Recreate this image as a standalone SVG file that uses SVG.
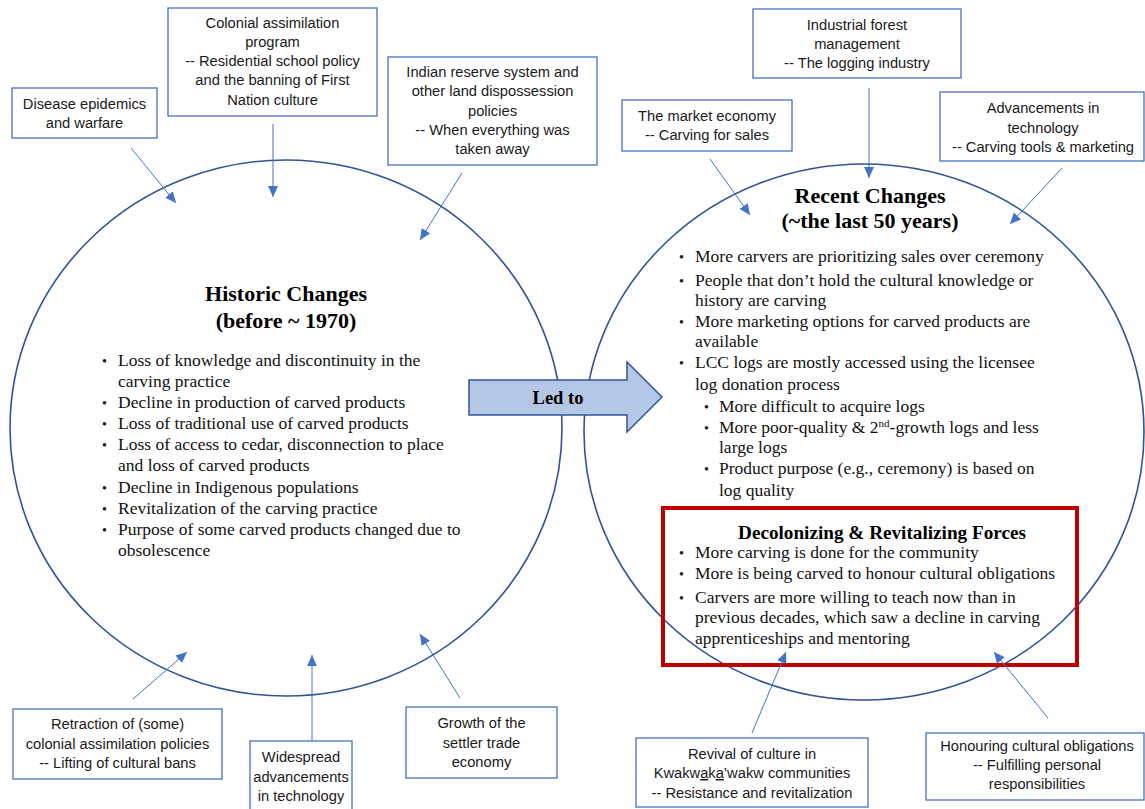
<svg xmlns="http://www.w3.org/2000/svg" width="1145" height="809" viewBox="0 0 1145 809">
<style>
.bg{fill:#ffffff}
.circ{fill:none;stroke:#2f5597;stroke-width:1.6}
.box{fill:#ffffff;stroke:#4472c4;stroke-width:1.3}
.bt{font-family:"Liberation Sans",Arial,sans-serif;font-size:14.7px;fill:#1a1a1a;text-anchor:middle}
.title{font-family:"Liberation Serif","Times New Roman",serif;font-size:22px;font-weight:bold;fill:#000;text-anchor:middle}
.sub{font-family:"Liberation Serif","Times New Roman",serif;font-size:18.5px;font-weight:bold;fill:#000;text-anchor:middle}
.sub2{font-family:"Liberation Serif","Times New Roman",serif;font-size:19.2px;font-weight:bold;fill:#000;text-anchor:middle}
.body{font-family:"Liberation Serif","Times New Roman",serif;font-size:17.5px;fill:#111}
.blt{font-size:14px}
.conn{stroke:#4472c4;stroke-width:1;fill:none;marker-end:url(#ah)}
</style>
<defs>
<marker id="ah" markerUnits="userSpaceOnUse" markerWidth="12" markerHeight="10" refX="11" refY="5" orient="auto">
<path d="M0,0 L11,5 L0,10 z" fill="#4472c4"/>
</marker>
</defs>
<rect class="bg" x="0" y="0" width="1145" height="809"/>

<g id="historic">
<ellipse class="circ" cx="286" cy="428" rx="276" ry="268"/>
<text class="title" x="286" y="301">Historic Changes</text>
<text class="title" x="286" y="328">(before ~ 1970)</text>
<g class="body">
<text class="blt" x="102" y="366">•</text><text x="118" y="366">Loss of knowledge and discontinuity in the</text>
<text x="118" y="387">carving practice</text>
<text class="blt" x="102" y="408">•</text><text x="118" y="408">Decline in production of carved products</text>
<text class="blt" x="102" y="429">•</text><text x="118" y="429">Loss of traditional use of carved products</text>
<text class="blt" x="102" y="450">•</text><text x="118" y="450">Loss of access to cedar, disconnection to place</text>
<text x="118" y="471">and loss of carved products</text>
<text class="blt" x="102" y="493">•</text><text x="118" y="493">Decline in Indigenous populations</text>
<text class="blt" x="102" y="514">•</text><text x="118" y="514">Revitalization of the carving practice</text>
<text class="blt" x="102" y="535">•</text><text x="118" y="535">Purpose of some carved products changed due to</text>
<text x="118" y="556">obsolescence</text>
</g>
</g>

<g id="recent">
<ellipse class="circ" cx="864" cy="432" rx="280" ry="268"/>
<text class="title" x="870" y="203">Recent Changes</text>
<text class="title" x="870" y="228">(~the last 50 years)</text>
<g class="body">
<text class="blt" x="679" y="262">•</text><text x="695" y="262">More carvers are prioritizing sales over ceremony</text>
<text class="blt" x="679" y="286">•</text><text x="695" y="286">People that don’t hold the cultural knowledge or</text>
<text x="695" y="306">history are carving</text>
<text class="blt" x="679" y="327">•</text><text x="695" y="327">More marketing options for carved products are</text>
<text x="695" y="347">available</text>
<text class="blt" x="679" y="368">•</text><text x="695" y="368">LCC logs are mostly accessed using the licensee</text>
<text x="695" y="390">log donation process</text>
<text class="blt" x="704" y="412">•</text><text x="719" y="412">More difficult to acquire logs</text>
<text class="blt" x="704" y="433">•</text><text x="719" y="433">More poor-quality &amp; 2<tspan font-size="11" dy="-6">nd</tspan><tspan dy="6">-growth logs and less</tspan></text>
<text x="719" y="453">large logs</text>
<text class="blt" x="704" y="474">•</text><text x="719" y="474">Product purpose (e.g., ceremony) is based on</text>
<text x="719" y="496">log quality</text>
</g>
</g>

<g id="decolonizing">
<rect x="663" y="508" width="414" height="157" fill="none" stroke="#c00000" stroke-width="4"/>
<text class="sub2" x="882" y="539">Decolonizing &amp; Revitalizing Forces</text>
<g class="body">
<text class="blt" x="679" y="558">•</text><text x="695" y="558">More carving is done for the community</text>
<text class="blt" x="679" y="579">•</text><text x="695" y="579">More is being carved to honour cultural obligations</text>
<text class="blt" x="679" y="603">•</text><text x="695" y="603">Carvers are more willing to teach now than in</text>
<text x="695" y="623">previous decades, which saw a decline in carving</text>
<text x="695" y="644">apprenticeships and mentoring</text>
</g>
</g>

<g id="led-to">
<path d="M469,380 L627,380 L627,362 L662,397 L627,432 L627,415 L469,415 Z" fill="#b4c7e7" stroke="#2f5597" stroke-width="1.5"/>
<text class="sub" x="558" y="404">Led to</text>
</g>

<g id="connectors">
<line class="conn" x1="131" y1="148" x2="176" y2="203"/>
<line class="conn" x1="273" y1="124" x2="273" y2="197"/>
<line class="conn" x1="462" y1="173" x2="420" y2="240"/>
<line class="conn" x1="710" y1="159" x2="750" y2="215"/>
<line class="conn" x1="869" y1="88" x2="869" y2="178"/>
<line class="conn" x1="1062" y1="168" x2="1010" y2="224"/>
<line class="conn" x1="133" y1="699" x2="187" y2="652"/>
<line class="conn" x1="312" y1="740" x2="312" y2="655"/>
<line class="conn" x1="460" y1="698" x2="420" y2="634"/>
<line class="conn" x1="752" y1="733" x2="786" y2="652"/>
<line class="conn" x1="1048" y1="718" x2="994" y2="652"/>
</g>

<g id="disease">
<rect class="box" x="12" y="88" width="145" height="50"/>
<text class="bt" x="84.5" y="109">Disease epidemics</text>
<text class="bt" x="84.5" y="128">and warfare</text>
</g>
<g id="colonial">
<rect class="box" x="168" y="8" width="209" height="108"/>
<text class="bt" x="272.5" y="28">Colonial assimilation</text>
<text class="bt" x="272.5" y="47">program</text>
<text class="bt" x="272.5" y="66">-- Residential school policy</text>
<text class="bt" x="272.5" y="85">and the banning of First</text>
<text class="bt" x="272.5" y="105">Nation culture</text>
</g>
<g id="reserve">
<rect class="box" x="388" y="57" width="209" height="108"/>
<text class="bt" x="492.5" y="77">Indian reserve system and</text>
<text class="bt" x="492.5" y="96">other land dispossession</text>
<text class="bt" x="492.5" y="116">policies</text>
<text class="bt" x="492.5" y="135">-- When everything was</text>
<text class="bt" x="492.5" y="154">taken away</text>
</g>
<g id="industrial">
<rect class="box" x="753" y="9" width="208" height="69"/>
<text class="bt" x="857" y="30">Industrial forest</text>
<text class="bt" x="857" y="49">management</text>
<text class="bt" x="857" y="68">-- The logging industry</text>
</g>
<g id="market">
<rect class="box" x="622" y="100" width="170" height="51"/>
<text class="bt" x="707" y="121">The market economy</text>
<text class="bt" x="707" y="140">-- Carving for sales</text>
</g>
<g id="advancements">
<rect class="box" x="940" y="92" width="204" height="69"/>
<text class="bt" x="1043" y="113">Advancements in</text>
<text class="bt" x="1043" y="133">technology</text>
<text class="bt" x="1043" y="152">-- Carving tools &amp; marketing</text>
</g>
<g id="retraction">
<rect class="box" x="13" y="709" width="209" height="70"/>
<text class="bt" x="117.5" y="729">Retraction of (some)</text>
<text class="bt" x="117.5" y="749">colonial assimilation policies</text>
<text class="bt" x="117.5" y="768">-- Lifting of cultural bans</text>
</g>
<g id="widespread">
<rect class="box" x="250" y="741" width="102" height="72"/>
<text class="bt" x="301" y="762">Widespread</text>
<text class="bt" x="301" y="782">advancements</text>
<text class="bt" x="301" y="801">in technology</text>
</g>
<g id="growth">
<rect class="box" x="406" y="707" width="151" height="71"/>
<text class="bt" x="481.5" y="728">Growth of the</text>
<text class="bt" x="481.5" y="748">settler trade</text>
<text class="bt" x="481.5" y="767">economy</text>
</g>
<g id="revival">
<rect class="box" x="636" y="738" width="232" height="69"/>
<text class="bt" x="752" y="759">Revival of culture in</text>
<text class="bt" x="752" y="778">Kwakw<tspan text-decoration="underline">a</tspan>k<tspan text-decoration="underline">a</tspan>’wakw communities</text>
<text class="bt" x="752" y="798">-- Resistance and revitalization</text>
</g>
<g id="honouring">
<rect class="box" x="926" y="733" width="218" height="67"/>
<text class="bt" x="1037" y="751">Honouring cultural obligations</text>
<text class="bt" x="1037" y="770">-- Fulfilling personal</text>
<text class="bt" x="1037" y="789">responsibilities</text>
</g>
</svg>
